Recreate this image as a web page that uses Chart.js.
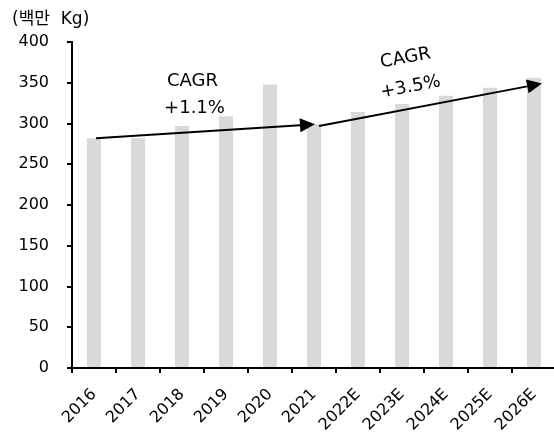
<!DOCTYPE html>
<html>
<head>
<meta charset="utf-8">
<script src="https://cdn.jsdelivr.net/npm/chart.js@4/dist/chart.umd.min.js"></script>
<style>
  html, body { margin: 0; padding: 0; overflow: hidden; background: #fff; }
  canvas { display: block; }
</style>
</head>
<body>
<canvas id="chart" width="560" height="435"></canvas>
<script>
// Annual volume, million kg (E = estimate)
const categories = ['2016', '2017', '2018', '2019', '2020', '2021', '2022E', '2023E', '2024E', '2025E', '2026E'];
const volumes = [282, 282, 297, 309, 348, 299, 314, 324, 334, 344, 356];
const yTickValues = [0, 50, 100, 150, 200, 250, 300, 350, 400];
const unitLabel = '(백만  Kg)';

// CAGR trend arrows: start/end category and value, plus the rate shown
const cagrFrom = ['2016', '2021'];
const cagrTo = ['2021', '2026E'];
const cagrStartValue = [282, 297];
const cagrEndValue = [299, 349];
const cagrRates = ['+1.1%', '+3.5%'];
const cagrTitle = 'CAGR';

const FONT = '"DejaVu Sans", "Noto Sans CJK KR", sans-serif';

// Pixel nudges and text placement for each trend arrow
const arrowStyle = [
  { startDx: 2, endDx: 1, titleOff: [-13, -49.5], rateOff: [-11, -22.5], tilt: false },
  { startDx: 5, endDx: 8, titleOff: [-25, -46.5], rateOff: [-20, -17.5], tilt: true }
];

const annotations = {
  id: 'annotations',
  afterDatasetsDraw(chart) {
    const ctx = chart.ctx;
    const xs = chart.scales.x;
    const ys = chart.scales.y;

    // unit caption above the value axis
    ctx.save();
    ctx.fillStyle = '#000';
    ctx.font = '17px ' + FONT;
    ctx.textAlign = 'left';
    ctx.textBaseline = 'middle';
    ctx.fillText(unitLabel, 12, 20);
    ctx.restore();

    for (let i = 0; i < cagrFrom.length; i++) {
      const st = arrowStyle[i];
      const x0 = xs.getPixelForValue(categories.indexOf(cagrFrom[i])) + st.startDx;
      const y0 = ys.getPixelForValue(cagrStartValue[i]);
      const x1 = xs.getPixelForValue(categories.indexOf(cagrTo[i])) + st.endDx;
      const y1 = ys.getPixelForValue(cagrEndValue[i]);
      const ang = Math.atan2(y1 - y0, x1 - x0);
      const headLen = 15, headHalf = 7;
      const bx = x1 - headLen * Math.cos(ang);
      const by = y1 - headLen * Math.sin(ang);

      ctx.save();
      ctx.strokeStyle = '#000';
      ctx.fillStyle = '#000';
      ctx.lineWidth = 2;
      ctx.beginPath();
      ctx.moveTo(x0, y0);
      ctx.lineTo(bx, by);
      ctx.stroke();
      ctx.beginPath();
      ctx.moveTo(x1, y1);
      ctx.lineTo(bx + headHalf * Math.sin(ang), by - headHalf * Math.cos(ang));
      ctx.lineTo(bx - headHalf * Math.sin(ang), by + headHalf * Math.cos(ang));
      ctx.closePath();
      ctx.fill();
      ctx.restore();

      const mx = (x0 + x1) / 2;
      const my = (y0 + y1) / 2;
      const rot = st.tilt ? ang : 0;
      ctx.save();
      ctx.fillStyle = '#000';
      ctx.font = '18px ' + FONT;
      ctx.textAlign = 'center';
      ctx.textBaseline = 'middle';
      [[cagrTitle, st.titleOff], [cagrRates[i], st.rateOff]].forEach(([txt, off]) => {
        ctx.save();
        ctx.translate(mx + off[0], my + off[1]);
        ctx.rotate(rot);
        ctx.fillText(txt, 0, 0);
        ctx.restore();
      });
      ctx.restore();
    }
  }
};

new Chart(document.getElementById('chart'), {
  type: 'bar',
  data: {
    labels: categories,
    datasets: [{
      data: volumes,
      backgroundColor: '#d9d9d9',
      borderWidth: 0,
      categoryPercentage: 1,
      barPercentage: 0.32
    }]
  },
  options: {
    responsive: false,
    animation: false,
    layout: { padding: { top: 42, right: 4, bottom: 0, left: 0 } },
    plugins: {
      legend: { display: false },
      tooltip: { enabled: false }
    },
    scales: {
      x: {
        offset: true,
        grid: { display: true, drawOnChartArea: false, drawTicks: true, tickLength: 5, color: '#000', lineWidth: 2, offset: true },
        border: { display: true, color: '#000', width: 2 },
        ticks: { color: '#000', font: { family: FONT, size: 16 }, minRotation: 45, maxRotation: 45, padding: 12, autoSkip: false },
        afterFit(scale) { scale.height = 67; }
      },
      y: {
        min: 0,
        max: 400,
        afterBuildTicks(scale) { scale.ticks = yTickValues.map(v => ({ value: v })); },
        grid: { display: true, drawOnChartArea: false, drawTicks: true, tickLength: 5, color: '#000', lineWidth: 2 },
        border: { display: true, color: '#000', width: 2 },
        ticks: { color: '#000', font: { family: FONT, size: 16 }, padding: 18 },
        afterFit(scale) { scale.width = 72; }
      }
    }
  },
  plugins: [annotations]
});
</script>
</body>
</html>
